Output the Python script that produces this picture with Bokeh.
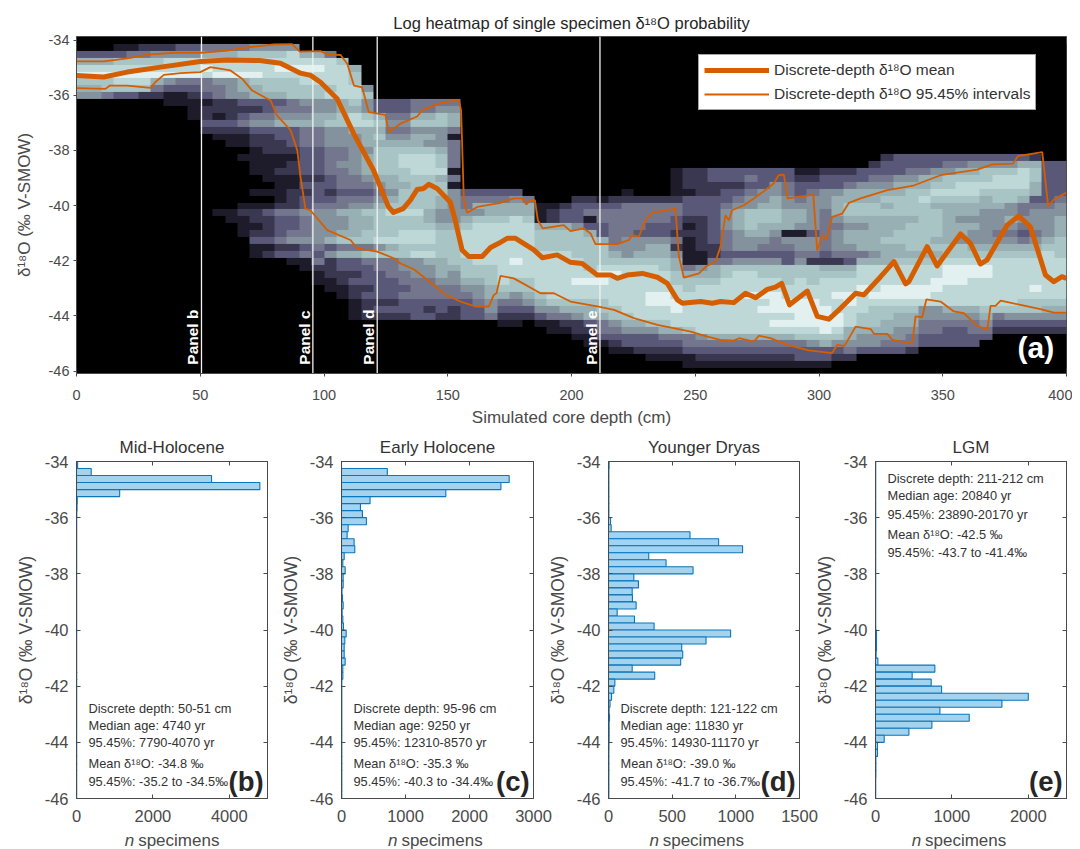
import math
import numpy as np
from bokeh.embed import file_html
from bokeh.resources import INLINE
from bokeh.plotting import figure
from bokeh.layouts import column, row
from bokeh.models import (Range1d, FixedTicker, LinearAxis, Legend, LegendItem, Label,
                          LinearColorMapper)
from bokeh.core.properties import value

FONT = "Liberation Sans"
INK = "#4a4a4a"
ORANGE = "#D55E00"

# ---- heat levels (0-9): one string per 5 cm column, top row first
heat_step_cm = 5
heat_top = -34.14
heat_row = 0.25
heat_rows = 47
heat_cols = [
 "03689765", "03689765", "03689774", "13789873", "14789873", "24789872", "25789642",
 "25889531 1", "35889431 1", "35889432 111",
 "46898443 12232", "46889544 22132100 00000000 1", "46889555 22232110 00000000 11",
 "47889665 32342110 10000001 2111", "57889766 32453221 11100101 2212311",
 "57888776 33453222 11110101 3222312", "57898776 34563322 11211112 4333423",
 "58898777 44563332 12211222 43345231", "06898877 54564443 33323233 54445341 1",
 "06898877 55664443 33323334 55555434 211", "04888878 55675554 44433234 55556352 2211",
 "00788888 66775554 45444344 65567463 32211", "00067788 76886555 55544345 66667463 32322111",
 "00000057 55786665 66654345 76677474 33323222", "00000000 33676767 77765456 77778574 43333232",
 "00000000 33454567 77766567 87778674 44333232", "00000000 33454567 88776777 87788775 54434332",
 "00000000 44675667 88877777 87788785 55444333", "00000000 44675657 88877777 66788786 55444323",
 "00000000 45775556 77867766 55677776 66544332", "00000000 45664144 44141555 55677777 65544322",
 "00000000 00000000 00000344 56788887 77654333", "00000000 00000000 00000346 57888888 77655433",
 "00000000 00000000 00000346 67888888 77766554", "00000000 00000000 00000346 67888888 88876432 1",
 "00000000 00000000 00000356 68888889 88775432 1", "00000000 00000000 00000046 67888888 88776532",
 "00000000 00000000 00000001 11677788 88887653 1", "00000000 00000000 00000001 22677788 88888754 11",
 "00000000 00000000 00000002 33677788 88888764 21", "00000000 00000000 00000023 33577778 88988765 221",
 "00000000 00000000 00000023 41367777 78988766 3211", "00000000 00000000 00000013 44336777 89988776 4431",
 "00000000 00000000 00000023 44444567 89888877 54321", "00000000 00000000 00000124 44445557 88888887 65331",
 "00000000 00000000 00000024 44435567 88888888 65332", "00000000 00000000 00000024 44335667 88889988 753321",
 "00000000 00000000 00000024 44335667 78889988 764321", "00000000 00000000 00111124 43324256 67788998 864321",
 "00000000 00000000 00222133 32121111 46778888 8744311", "00000000 00000000 00222233 32222211 56788888 8854321",
 "00000000 00000000 00332233 33333224 66788888 8864321", "00000000 00000000 00332334 55544434 77888888 8864321",
 "00000000 00000000 00332345 66655535 78888888 8864321", "00000000 00000000 00343455 77765535 78889888 8864321",
 "00000000 00000000 00333556 77665435 77889898 8864321", "00000000 00000000 00335566 77654435 77889998 9864321",
 "00000000 00000000 00334455 66615433 77788998 9864321", "00000000 00000000 00123345 66515545 77888999 9874331",
 "00000000 00000000 00123455 55535542 77788999 9875331", "00000000 00000000 00233555 44444432 67888899 9976331",
 "00000000 00000000 00233566 65455542 67889889 9875320", "00000000 00000000 00234667 76566543 67889988 866542",
 "00000000 00000000 00335667 76566646 88898887 76553", "00000000 00000000 02345667 76666656 88889877 76553",
 "00000000 00000000 23345676 76667666 88899877 66543", "00000000 00000000 33356677 76677667 88899876 65543",
 "00000000 00000000 33456777 76777767 88899876 65442", "00000000 00000000 33466787 77777767 88899855 4433",
 "00000000 00000000 33567876 77776767 88998855 4433", "00000000 00000000 34577876 66666778 99988865 4333",
 "00000000 00000000 34678876 65665778 99988865 4333", "00000000 00000000 35678876 65655678 99888865 4433",
 "00000000 00000000 35778766 55555678 99888876 543", "00000000 00000000 35788776 55545678 88888874 32",
 "00000000 00000000 35788775 56545678 88888875 32", "00000000 00000000 36888764 45434678 88888775 32",
 "00000000 00000000 26776634 55545678 88898775 32", "00000000 00000000 03333334 55556788 88888765 32",
 "00000000 00000000 03333345 56667778 88888765 32",
]
heat_palette = ["#000000", "#1e1c2a", "#3a3750", "#5a5878", "#74768e", "#84929e",
                "#98b0b4", "#a8c4c4", "#bed8d8", "#e2f0f0"]

# ---- lines
mean_depth = [0,11,20.5,34,50,60.9,74,82.4,90.5,94.6,98.6,105.3,112,120,126,128,132,134.9,137.6,140.3,142.3,145.7,151,153,155.8,158.5,163.9,167.3,170.6,174,177.4,184.8,188.2,194.2,199.6,204.3,210.4,215.8,218.5,222.5,228.6,234.7,238.7,242.8,244.8,252.2,256.9,260.2,265.6,270.3,274.4,279.1,282.4,284.9,288.1,295.3,299.3,304,307.4,314.8,318.1,324.9,330.3,335,336.3,343.7,347.7,357.2,361.2,365.2,367.9,376,380.7,385.4,391.5,394.9,398.2,400]
mean_d18o = [-35.28,-35.34,-35.16,-34.98,-34.78,-34.72,-34.74,-34.84,-35.2,-35.28,-35.53,-36.13,-37.39,-38.72,-40.04,-40.25,-40.11,-39.8,-39.42,-39.38,-39.23,-39.38,-39.87,-40.53,-41.61,-41.85,-41.85,-41.52,-41.37,-41.19,-41.19,-41.61,-41.89,-41.79,-42.06,-42.1,-42.52,-42.52,-42.64,-42.52,-42.46,-42.6,-42.82,-43.42,-43.54,-43.48,-43.54,-43.48,-43.52,-43.18,-43.34,-43.04,-42.96,-42.82,-43.6,-43.1,-44.02,-44.12,-43.84,-43.18,-43.24,-42.58,-42.03,-42.84,-42.76,-41.49,-42.19,-41.03,-41.37,-42.12,-41.97,-40.71,-40.38,-40.77,-42.52,-42.76,-42.58,-42.64]

upper_depth = [0,11,20.5,29.9,39.4,50,60.9,69,79.7,87.1,90.2,98.6,101.3,106.7,109.4,112.1,115.4,118.1,124.8,126.2,130.9,137.6,139.7,144.4,148.4,154.5,155.4,156.5,157.8,161.9,171.3,176.7,180.1,181.8,183.4,185.2,186.4,188.4,196.9,199.6,205,207.7,209.7,218.5,223.2,224.5,227.2,229.9,232.6,238.7,242,243.4,245.4,251.5,254.2,258.2,260.2,262.2,263.6,264.9,269.6,273.7,277,281.7,283.7,285.8,287.4,296.6,297.7,299.3,301.3,303,305.3,309.4,312.1,316.8,327.6,337.7,349.1,363.9,370,378.4,380.3,390.2,392.6,394.9,400]
upper_d18o = [-34.77,-34.77,-34.66,-34.52,-34.46,-34.46,-34.38,-34.26,-34.16,-34.15,-34.42,-34.4,-34.52,-34.54,-34.86,-35.65,-35.71,-36.61,-36.71,-37.33,-37.03,-36.77,-36.55,-36.37,-36.25,-36.19,-36.55,-39.8,-40.26,-40.05,-39.9,-39.74,-39.74,-39.96,-39.8,-39.8,-40.53,-40.83,-40.71,-40.93,-40.83,-41.01,-41.4,-41.4,-41.25,-41.07,-41.13,-40.53,-40.26,-40.17,-40.11,-41.85,-42.61,-42.46,-42.22,-42.03,-41.49,-40.35,-40.53,-40.17,-39.99,-39.74,-39.53,-39.2,-38.9,-38.88,-39.74,-39.62,-39.62,-41.64,-41.07,-41.25,-40.41,-40.29,-39.9,-39.74,-39.44,-39.29,-38.9,-38.7,-38.51,-38.48,-38.21,-38.06,-40.02,-39.78,-39.53]

lower_depth = [0,11.7,13.5,20.5,29.9,31.9,35.3,42,50,54.1,62.2,66.9,71,78.4,81,86.5,89.2,90.5,92.5,94.5,101.3,110.7,113.4,121.5,128.2,130.9,136.3,144.4,149.1,155.2,161.2,166.6,168.6,169.7,171.3,176.7,187.5,192.9,199.6,210.4,217.2,225.2,234.7,248.2,254.9,260.2,265.6,267.7,273.7,275.7,280.4,287.1,295.9,305.3,307.4,310.3,314.8,320.9,322.2,327.6,329.6,337.7,339,341.7,343.4,349.1,354.5,358.5,363.9,368,369.3,371.3,373.4,381.4,389.5,394.9,400]
lower_d18o = [-35.74,-35.77,-35.65,-35.65,-35.73,-35.52,-35.26,-35.2,-35.16,-34.98,-35.1,-35.4,-35.83,-36.19,-36.73,-37.27,-37.99,-38.96,-40.11,-40.17,-40.89,-41.25,-41.55,-41.67,-41.91,-42.1,-42.31,-42.88,-43.24,-43.48,-43.66,-43.66,-43.24,-43.18,-42.55,-42.64,-43.18,-43.18,-43.48,-43.66,-43.78,-44.08,-44.33,-44.57,-44.75,-44.87,-44.9,-44.81,-44.93,-44.72,-44.81,-45.05,-45.25,-45.35,-45.05,-45.09,-44.39,-44.48,-44.65,-44.65,-44.87,-45.01,-44.02,-44.05,-43.4,-43.48,-43.84,-43.9,-44.36,-44.51,-43.64,-43.64,-43.45,-43.6,-43.76,-43.88,-43.88]

panel_depths = [50.5, 95.5, 121.5, 211.5]
panel_names = ["Panel b", "Panel c", "Panel d", "Panel e"]

# ---- histograms: 48 bins of 0.25 per mil from -34 down to -46
bin_width = 0.25
hist_b = [30,385,3535,4800,1130,20,15,8] + [5]*40
hist_c = [0,716,2620,2491,1630,446,296,327,389,104,88,197,208,42,21,57,26,26,8,16,26,10,21,31,73,52,42,42,57,21,21] + [5]*17
hist_d = [5,3,3,3,3,3,3,3,16,21,640,865,1053,316,452,664,199,235,186,188,217,68,204,358,959,766,575,583,567,186,363,50,42,24,12,5,8,5,5,5,4,3,3,3,3,3,3,3]
hist_e = [3]*24 + [13,13,13,8,31,777,480,729,865,2000,1655,843,1227,738,437,114,26,26,5,5,5,3,3,3]

y_ticks = [-34,-36,-38,-40,-42,-44,-46]
x_ticks_top = [0,50,100,150,200,250,300,350,400]

panels = [
 dict(title="Mid-Holocene", vals=hist_b, xmax=5000, ticks=[0,2000,4000], tag="(b)",
      lines=["Discrete depth: 50-51 cm","Median age: 4740 yr","95.45%: 7790-4070 yr","Mean δ¹⁸O: -34.8 ‰","95.45%: -35.2 to -34.5‰"]),
 dict(title="Early Holocene", vals=hist_c, xmax=3000, ticks=[0,1000,2000,3000], tag="(c)",
      lines=["Discrete depth: 95-96 cm","Median age: 9250 yr","95.45%: 12310-8570 yr","Mean δ¹⁸O: -35.3 ‰","95.45%: -40.3 to -34.4‰"]),
 dict(title="Younger Dryas", vals=hist_d, xmax=1500, ticks=[0,500,1000,1500], tag="(d)",
      lines=["Discrete depth: 121-122 cm","Median age: 11830 yr","95.45%: 14930-11170 yr","Mean δ¹⁸O: -39.0 ‰","95.45%: -41.7 to -36.7‰"]),
 dict(title="LGM", vals=hist_e, xmax=2500, ticks=[0,1000,2000], tag="(e)",
      lines=["Discrete depth: 211-212 cm","Median age: 20840 yr","95.45%: 23890-20170 yr","Mean δ¹⁸O: -42.5 ‰","95.45%: -43.7 to -41.4‰"]),
]

# ---- top panel
top = figure(width=1072, height=430, x_range=Range1d(0, 400), y_range=Range1d(-46.09, -33.87),
             output_backend="svg", toolbar_location=None,
             min_border_left=76, min_border_right=6, min_border_top=36, min_border_bottom=57,
             background_fill_color="black", outline_line_color=INK)
top.grid.visible = False
heat = np.zeros((heat_rows, len(heat_cols)))
for c, s in enumerate(heat_cols):
    for r, ch in enumerate(s.replace(" ", "")):
        heat[heat_rows - 1 - r, c] = int(ch)
mapper = LinearColorMapper(palette=heat_palette, low=-0.5, high=9.5)
top.image(image=[heat], x=0, y=heat_top - heat_rows * heat_row, dw=heat_step_cm * len(heat_cols),
          dh=heat_rows * heat_row, color_mapper=mapper)
top.segment(x0=panel_depths, x1=panel_depths, y0=[-46.09]*4, y1=[-33.87]*4, line_color="#f2f2f2", line_width=1.3)
top.text(x=panel_depths, y=[-45.77]*4, text=panel_names, angle=math.pi/2, text_color="white",
         text_font=value(FONT), text_font_size="15.5px", text_font_style="bold", text_align="left", text_baseline="bottom")
r_mean = top.line(mean_depth, mean_d18o, line_color=ORANGE, line_width=5, line_join="round")
r_up = top.line(upper_depth, upper_d18o, line_color=ORANGE, line_width=1.8)
top.line(lower_depth, lower_d18o, line_color=ORANGE, line_width=1.8)
top.add_layout(Label(x=395, y=-45.15, text="(a)", text_color="white", text_font=FONT, text_font_style="bold",
                     text_font_size="30px", text_align="right", text_baseline="middle"))
legend = Legend(items=[LegendItem(label="Discrete-depth δ¹⁸O mean", renderers=[r_mean]),
                       LegendItem(label="Discrete-depth δ¹⁸O 95.45% intervals", renderers=[r_up])],
                location=(622, 263), glyph_width=65, glyph_height=20, label_height=20, spacing=4, padding=5, margin=0,
                label_text_font=FONT, label_text_font_size="15.5px", label_text_color="#333333",
                border_line_color=INK, background_fill_color="white", background_fill_alpha=1, label_standoff=5)
top.add_layout(legend)
top.title.text = "Log heatmap of single specimen δ¹⁸O probability"
top.title.align = "center"
top.title.text_font = FONT
top.title.text_font_size = "16.5px"
top.title.text_font_style = "normal"
top.title.text_color = "#262626"

ax = top.xaxis[0]
ax.ticker = FixedTicker(ticks=x_ticks_top)
ax.axis_label = "Simulated core depth (cm)"
ay = top.yaxis[0]
ay.ticker = FixedTicker(ticks=y_ticks)
ay.major_label_overrides = {t: str(t) for t in y_ticks}
ay.axis_label = "δ¹⁸O (‰ V-SMOW)"
for a in (ax, ay):
    a.major_tick_in = 0; a.major_tick_out = 3; a.minor_tick_in = 0; a.minor_tick_out = 0
    a.axis_line_color = INK; a.major_tick_line_color = INK
    a.major_label_text_color = INK; a.major_label_text_font = FONT; a.major_label_text_font_size = "14.5px"
    a.axis_label_text_color = INK; a.axis_label_text_font = FONT; a.axis_label_text_font_size = "17px"
    a.axis_label_text_font_style = "normal"
ax.major_label_standoff = 13
ay.major_label_standoff = 4
ay.axis_label_standoff = 12

# ---- lower panels
borders = [(76, 20), (64, 20), (64, 21), (64, 6)]
frame_w = [191, 192, 191, 191]
overlap = [0, 10, 9, 9]
frame_left = [76, 341, 608, 875]
n_off = [49, 51, 49, 48]
n_gap = 13.5
figs = []
for k, (P, (bl, br), fw) in enumerate(zip(panels, borders, frame_w)):
    f = figure(width=bl + fw + br, height=400, x_range=Range1d(0, P["xmax"]), y_range=Range1d(-46, -34),
               output_backend="svg", toolbar_location=None, min_border_left=bl, min_border_right=br,
               min_border_top=30, min_border_bottom=32, outline_line_color=INK,
               border_fill_alpha=0, margin=(0, 0, 0, -overlap[k]))
    f.grid.visible = False
    ys = [-34 - bin_width * (i + 0.5) for i in range(len(P["vals"]))]
    f.hbar(y=ys, right=P["vals"], left=0, height=bin_width, fill_color="#A3D3EE", line_color="#0B76BB", line_width=1.1)
    lines_left = 12 / fw * P["xmax"]
    ly = [-34.59, -35.22, -35.88, -36.61, -37.24] if P["tag"] == "(e)" else [-42.78, -43.39, -44.02, -44.76, -45.39]
    f.text(x=[lines_left] * 5, y=ly, text=P["lines"], text_font=value(FONT), text_font_size="12.8px",
           text_color="#333333", text_align="left", text_baseline="middle")
    f.add_layout(Label(x=P["xmax"] * 0.98, y=-45.38, text=P["tag"], text_font=FONT, text_font_style="bold",
                       text_font_size="27.5px", text_color="#262626", text_align="right", text_baseline="middle"))
    f.title.text = P["title"]
    f.title.align = "center"
    f.title.text_font = FONT
    f.title.text_font_size = "17px"
    f.title.text_font_style = "normal"
    f.title.text_color = "#333333"
    ax = f.xaxis[0]; ay = f.yaxis[0]
    ax.ticker = FixedTicker(ticks=P["ticks"]); ay.ticker = FixedTicker(ticks=y_ticks)
    ay.major_label_overrides = {t: str(t) for t in y_ticks}
    ay.axis_label = "δ¹⁸O (‰ V-SMOW)"
    ax2 = LinearAxis(ticker=FixedTicker(ticks=P["ticks"]), major_label_overrides={t: "" for t in P["ticks"]})
    ay2 = LinearAxis(ticker=FixedTicker(ticks=y_ticks), major_label_overrides={t: "" for t in y_ticks})
    f.add_layout(ax2, "above"); f.add_layout(ay2, "right")
    for a in (ax, ay, ax2, ay2):
        a.major_tick_in = 4; a.major_tick_out = 0; a.minor_tick_in = 0; a.minor_tick_out = 0
        a.axis_line_color = INK; a.major_tick_line_color = INK
        a.major_label_text_color = INK; a.major_label_text_font = FONT; a.major_label_text_font_size = "16.5px"
        a.axis_label_text_color = INK; a.axis_label_text_font = FONT; a.axis_label_text_font_size = "17.5px"
        a.major_label_standoff = 8
    ay.axis_label_text_font_style = "normal"
    ay.axis_label_standoff = 6
    ax.major_label_standoff = 11
    figs.append(f)

# strip under the panels carrying the part-italic axis captions
strip = figure(width=1072, height=19, x_range=Range1d(76, 1080), y_range=Range1d(0, 19),
               output_backend="svg", toolbar_location=None, x_axis_location=None, y_axis_location=None,
               min_border=0, outline_line_color=None)
strip.grid.visible = False
n_x = [fl + o for fl, o in zip(frame_left, n_off)]
strip.text(x=n_x, y=[9.5]*4, text=["n"]*4, text_font=value(FONT), text_font_style="italic", text_font_size="17px",
           text_color=INK, text_align="left", text_baseline="middle")
strip.text(x=[v + n_gap for v in n_x], y=[9.5]*4, text=["specimens"]*4, text_font=value(FONT), text_font_size="17px",
           text_color=INK, text_align="left", text_baseline="middle")

page = column(top, row(*figs, spacing=0), strip, spacing=0)
open("out.html", "w").write(file_html(page, INLINE))
